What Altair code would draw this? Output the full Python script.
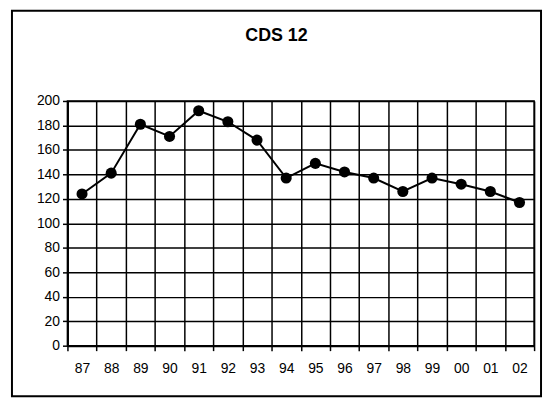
import altair as alt
import pandas as pd

years = ["87", "88", "89", "90", "91", "92", "93", "94", "95", "96", "97", "98", "99", "00", "01", "02"]
values = [124, 141, 181, 171, 192, 183, 168, 137, 149, 142, 137, 126, 137, 132, 126, 117]
y_ticks = [0, 20, 40, 60, 80, 100, 120, 140, 160, 180, 200]
title_text = "CDS 12"

df = pd.DataFrame({"year": years, "value": values})

W, H = 471, 247
FONT = "Liberation Sans"

x = alt.X(
    "year:O", sort=years, title=None,
    scale=alt.Scale(paddingInner=0, paddingOuter=0),
    axis=alt.Axis(
        tickBand="extent", grid=True, gridColor="black", gridWidth=1.5, gridOpacity=1,
        domainColor="black", domainWidth=2, tickColor="black", tickWidth=1.5, tickSize=5,
        labelAngle=0, labelPadding=11, labelFontSize=14, labelColor="black", labelFont=FONT,
    ),
)
y = alt.Y(
    "value:Q", title=None,
    scale=alt.Scale(domain=[0, 200], nice=False),
    axis=alt.Axis(
        values=y_ticks, grid=True, gridColor="black", gridWidth=1.5, gridOpacity=1,
        domainColor="black", domainWidth=2, tickColor="black", tickWidth=1.5, tickSize=5,
        labelPadding=3, labelFontSize=14, labelColor="black", labelFont=FONT,
    ),
)

base = alt.Chart(df)
line = base.mark_line(color="black", strokeWidth=2).encode(x=x, y=y)
pts = base.mark_circle(color="black", size=125, opacity=1).encode(x=x, y=y)

one = alt.Data(values=[{}])
frame = alt.Chart(one).mark_rect(filled=False, stroke="black", strokeWidth=2).encode(
    x=alt.value(-56), x2=alt.value(478), y=alt.value(-91), y2=alt.value(298)
)
title = alt.Chart(one).mark_text(
    text=title_text, fontWeight="bold", fontSize=18, font=FONT, color="black",
    align="center", baseline="alphabetic",
).encode(x=alt.value(211), y=alt.value(-61))

chart = alt.layer(frame, line, pts, title).properties(
    width=W, height=H,
    autosize=alt.AutoSizeParams(type="none"),
    padding={"left": 60, "top": 92, "right": 10, "bottom": 54},
).configure_view(stroke="black", strokeWidth=1.5)

chart.save("out.html", embed_options={"renderer": "svg", "actions": False})
